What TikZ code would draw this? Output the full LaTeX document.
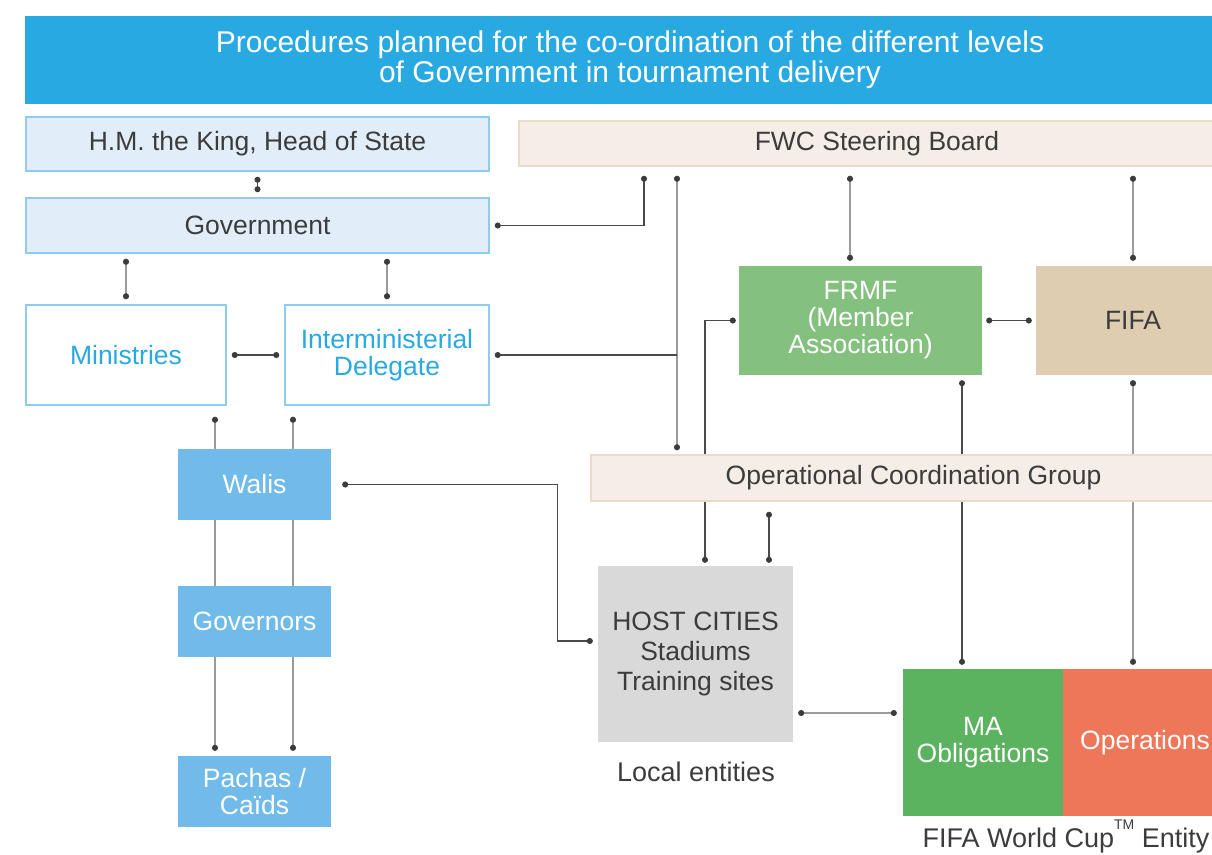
\documentclass[tikz,border=0pt]{standalone}
\usepackage{fontspec}
\setmainfont{Liberation Sans}
\usetikzlibrary{arrows.meta, backgrounds}
\definecolor{TitleBlue}{HTML}{29A9E1}
\definecolor{PaleBlue}{HTML}{E1EEF9}
\definecolor{EdgeBlue}{HTML}{8DCBF0}
\definecolor{WaliBlue}{HTML}{70BBE9}
\definecolor{BoardFill}{HTML}{F5EEE7}
\definecolor{BoardEdge}{HTML}{E9DCCB}
\definecolor{FrmfGreen}{HTML}{84C17F}
\definecolor{FifaSand}{HTML}{DFCDB2}
\definecolor{HostGray}{HTML}{D9D9D9}
\definecolor{MaGreen}{HTML}{5BB360}
\definecolor{OpsOrange}{HTML}{EE775A}
\definecolor{TextGray}{HTML}{3C3C3C}
\definecolor{LinkDark}{HTML}{4A4A4A}
\definecolor{LinkGray}{HTML}{9B9B9B}
\tikzset{
    basebox/.style={rectangle, inner sep=0pt, align=center,
        font=\fontsize{26.5}{27}\selectfont},
    titlebox/.style={basebox, fill=TitleBlue, text=white,
        font=\fontsize{30}{30}\selectfont},
    govbox/.style={basebox, draw=EdgeBlue, fill=PaleBlue, line width=1.5pt, text=TextGray},
    ministrybox/.style={basebox, draw=EdgeBlue, fill=white, line width=1.5pt, text=TitleBlue},
    regionbox/.style={basebox, fill=WaliBlue, text=white,
        minimum width=153pt, minimum height=71pt},
    boardbox/.style={basebox, draw=BoardEdge, fill=BoardFill, line width=1.5pt, text=TextGray},
    entitybox/.style={basebox, text=white},
    caption/.style={font=\fontsize{27}{27}\selectfont, text=TextGray},
    link/.style={draw=LinkDark, line width=1.3pt,
        {Circle[length=6pt, color=TextGray]}-{Circle[length=6pt, color=TextGray]},
        shorten <=5pt, shorten >=5pt},
    glink/.style={link, draw=LinkGray, line width=2pt},
}

\begin{document}
\begin{tikzpicture}[x=1pt, y=-1pt]
    \useasboundingbox (0,0) rectangle (1212,854);
    \clip (0,0) rectangle (1212,854);

    \node[titlebox, minimum width=1210pt, minimum height=88pt] (title) at (630,60)
        {Procedures planned for the co-ordination of the different levels\\
         of Government in tournament delivery};

    \node[govbox, minimum width=463pt, minimum height=54pt] (king) at (257.5,144)
        {H.M. the King, Head of State};
    \node[govbox, minimum width=463pt, minimum height=55pt] (govt) at (257.5,225.5)
        {Government};
    \node[ministrybox, minimum width=200pt, minimum height=100pt] (ministries) at (126,355)
        {Ministries};
    \node[ministrybox, minimum width=204pt, minimum height=100pt] (interdel) at (387,355)
        {Interministerial\\Delegate};

    \node[regionbox] (walis) at (254.5,484.5) {Walis};
    \node[regionbox] (governors) at (254.5,621.5) {Governors};
    \node[regionbox] (pachas) at (254.5,791.5) {Pachas /\\Caïds};

    \node[boardbox, minimum width=716pt, minimum height=45pt] (steering) at (877,143.5)
        {FWC Steering Board};
    \node[entitybox, fill=FrmfGreen, minimum width=243pt, minimum height=109pt] (frmf)
        at (860.5,320.5) {FRMF\\(Member\\Association)};
    \node[entitybox, fill=FifaSand, text=TextGray, minimum width=194pt, minimum height=109pt]
        (fifa) at (1133,320.5) {FIFA};
    \node[boardbox, minimum width=645pt, minimum height=46pt] (ocg) at (913.5,478)
        {Operational Coordination Group};

    \node[basebox, fill=HostGray, text=TextGray, minimum width=195pt, minimum height=176pt,
        font=\fontsize{26.5}{30}\selectfont] (host) at (695.5,654)
        {HOST CITIES\\Stadiums\\Training sites};
    \node[caption] (local) at (696,772) {Local entities};

    \node[entitybox, fill=MaGreen, minimum width=160pt, minimum height=147pt] (maob)
        at (983,742.5) {MA\\Obligations};
    \node[entitybox, fill=OpsOrange, minimum width=164pt, minimum height=147pt] (ops)
        at (1145,742.5) {Operations};
    \node[caption, anchor=base, inner ysep=0pt] (wcentity) at (1066,847)
        {FIFA World Cup\raisebox{1.25ex}{\fontsize{14}{14}\selectfont TM} Entity};

    \coordinate (spine) at ([xshift=-200pt]steering.south);

    \begin{scope}[on background layer]
        \draw[link] (king.south) -- (govt.north);
        \draw[glink] (ministries.north |- govt.south) -- (ministries.north);
        \draw[glink] (interdel.north |- govt.south) -- (interdel.north);
        \draw[link] (ministries.east) -- (interdel.west);
        \draw[link, shorten >=9pt] (govt.east) -| ([xshift=-233pt]steering.south);
        \draw[glink, shorten <=9pt, shorten >=4pt] (spine) -- (spine |- ocg.north);
        \draw[link, {Circle[length=6pt, color=TextGray]}-, shorten >=0pt]
            (interdel.east) -- (interdel.east -| spine);

        \draw[glink, shorten <=11pt, shorten >=5pt]
            ([xshift=-39.5pt]pachas.north |- ministries.south) -- ([xshift=-39.5pt]pachas.north);
        \draw[glink, shorten <=11pt, shorten >=5pt]
            ([xshift=38.5pt]pachas.north |- ministries.south) -- ([xshift=38.5pt]pachas.north);
        \draw[link, shorten <=11pt] (walis.east) -- ++(226pt,0) |- ([yshift=13pt]host.west);

        \draw[glink, shorten <=9pt] ([xshift=-10.5pt]frmf.north |- steering.south)
            -- ([xshift=-10.5pt]frmf.north);
        \draw[glink, shorten <=9pt] (fifa.north |- steering.south) -- (fifa.north);
        \draw[link, shorten <=3pt, shorten >=3pt] (frmf.west) -| ([xshift=9.5pt]host.north);
        \draw[link, shorten <=10pt, shorten >=3pt]
            ([xshift=73.5pt]host.north |- ocg.south) -- ([xshift=73.5pt]host.north);
        \draw[link, shorten <=4pt, shorten >=4pt] (frmf.east) -- (fifa.west);
        \draw[link, shorten >=4pt] ([xshift=-21pt]maob.north |- frmf.south)
            -- ([xshift=-21pt]maob.north);
        \draw[glink, shorten >=4pt] (fifa.south) -- (fifa.south |- ops.north);
        \draw[glink, shorten <=5pt, shorten >=6pt]
            ([yshift=-59pt]host.east) -- ([yshift=-59pt]host.east -| maob.west);
    \end{scope}
\end{tikzpicture}
\end{document}
